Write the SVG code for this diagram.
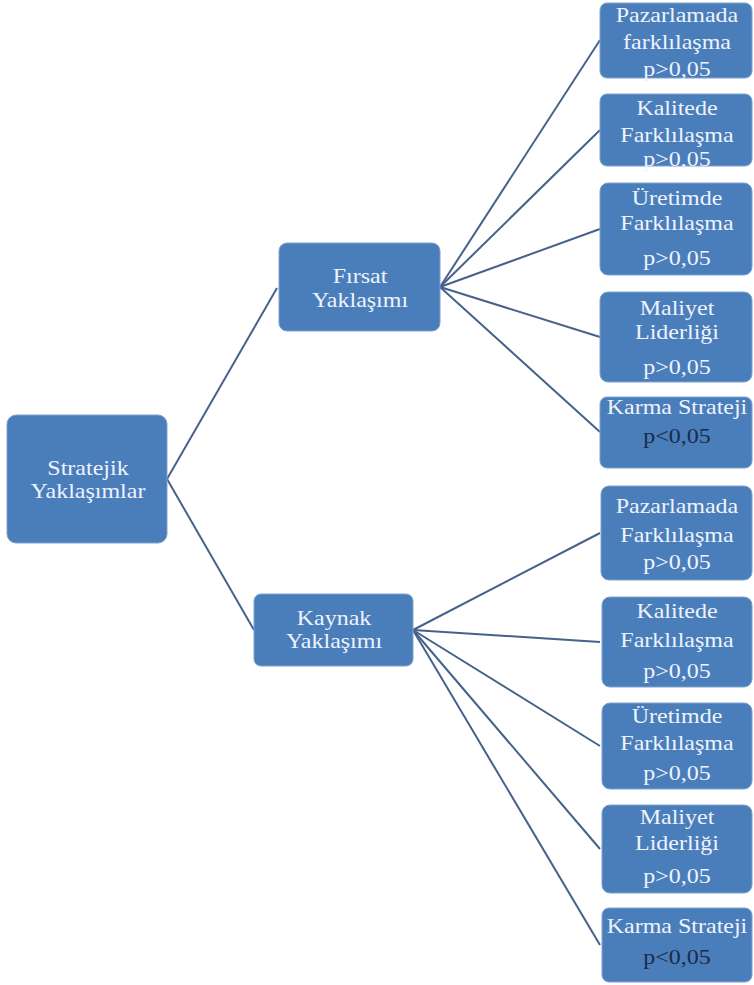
<svg xmlns="http://www.w3.org/2000/svg" width="754" height="985" viewBox="0 0 754 985">
  <style>
    .box { fill: #4a7ebb; stroke: #7da2cf; stroke-width: 1; }
    .lbl { font-family: "Liberation Serif", "Times New Roman", serif; font-size: 20px; fill: #eef3fb; text-anchor: middle; }
    .dark { fill: #1c2a4a; }
    .link { stroke: #46628a; stroke-width: 2; fill: none; }
  </style>
  <rect width="754" height="985" fill="#ffffff"/>

  <!-- connectors -->
  <g id="connectors" class="link">
    <line x1="167" y1="479" x2="277" y2="288"/>
    <line x1="167" y1="479" x2="254" y2="630"/>
    <line x1="440" y1="287" x2="600" y2="40"/>
    <line x1="440" y1="287" x2="600" y2="130"/>
    <line x1="440" y1="287" x2="600" y2="229"/>
    <line x1="440" y1="287" x2="600" y2="337"/>
    <line x1="440" y1="287" x2="600" y2="432"/>
    <line x1="413" y1="630" x2="600" y2="533"/>
    <line x1="413" y1="630" x2="600" y2="642"/>
    <line x1="413" y1="630" x2="600" y2="746"/>
    <line x1="413" y1="630" x2="600" y2="849"/>
    <line x1="413" y1="630" x2="600" y2="945"/>
  </g>

  <!-- root -->
  <g id="stratejik">
    <rect class="box" x="7" y="415" width="160" height="128" rx="9"/>
    <g transform="translate(88,0) scale(1.2,1)" class="lbl">
      <text y="475">Stratejik</text>
      <text y="498">Yaklaşımlar</text>
    </g>
  </g>

  <!-- second level -->
  <g id="firsat">
    <rect class="box" x="279" y="243" width="161" height="88" rx="8"/>
    <g transform="translate(360,0) scale(1.2,1)" class="lbl">
      <text y="283">Fırsat</text>
      <text y="307">Yaklaşımı</text>
    </g>
  </g>
  <g id="kaynak">
    <rect class="box" x="254" y="594" width="159" height="72" rx="7"/>
    <g transform="translate(334,0) scale(1.2,1)" class="lbl">
      <text y="625">Kaynak</text>
      <text y="648">Yaklaşımı</text>
    </g>
  </g>

  <!-- Fırsat branches -->
  <g id="f-pazarlama">
    <rect class="box" x="600" y="3" width="152" height="75" rx="7"/>
    <g transform="translate(677,0) scale(1.2,1)" class="lbl">
      <text y="22">Pazarlamada</text>
      <text y="49">farklılaşma</text>
      <text y="76">p&gt;0,05</text>
    </g>
  </g>
  <g id="f-kalite">
    <rect class="box" x="600" y="94" width="152" height="72" rx="7"/>
    <g transform="translate(677,0) scale(1.2,1)" class="lbl">
      <text y="115">Kalitede</text>
      <text y="142">Farklılaşma</text>
      <text y="166">p&gt;0,05</text>
    </g>
  </g>
  <g id="f-uretim">
    <rect class="box" x="600" y="183" width="152" height="92" rx="8"/>
    <g transform="translate(677,0) scale(1.2,1)" class="lbl">
      <text y="205">Üretimde</text>
      <text y="230">Farklılaşma</text>
      <text y="265">p&gt;0,05</text>
    </g>
  </g>
  <g id="f-maliyet">
    <rect class="box" x="600" y="292" width="152" height="90" rx="8"/>
    <g transform="translate(677,0) scale(1.2,1)" class="lbl">
      <text y="315">Maliyet</text>
      <text y="339">Liderliği</text>
      <text y="374">p&gt;0,05</text>
    </g>
  </g>
  <g id="f-karma">
    <rect class="box" x="600" y="397" width="152" height="71" rx="7"/>
    <g transform="translate(677,0) scale(1.2,1)" class="lbl">
      <text y="414">Karma Strateji</text>
      <text y="443" class="dark">p&lt;0,05</text>
    </g>
  </g>

  <!-- Kaynak branches -->
  <g id="k-pazarlama">
    <rect class="box" x="601" y="486" width="151" height="94" rx="8"/>
    <g transform="translate(677,0) scale(1.2,1)" class="lbl">
      <text y="513">Pazarlamada</text>
      <text y="542">Farklılaşma</text>
      <text y="569">p&gt;0,05</text>
    </g>
  </g>
  <g id="k-kalite">
    <rect class="box" x="602" y="597" width="150" height="90" rx="8"/>
    <g transform="translate(677,0) scale(1.2,1)" class="lbl">
      <text y="618">Kalitede</text>
      <text y="647">Farklılaşma</text>
      <text y="678">p&gt;0,05</text>
    </g>
  </g>
  <g id="k-uretim">
    <rect class="box" x="602" y="703" width="150" height="86" rx="8"/>
    <g transform="translate(677,0) scale(1.2,1)" class="lbl">
      <text y="723">Üretimde</text>
      <text y="750">Farklılaşma</text>
      <text y="780">p&gt;0,05</text>
    </g>
  </g>
  <g id="k-maliyet">
    <rect class="box" x="602" y="805" width="150" height="88" rx="8"/>
    <g transform="translate(677,0) scale(1.2,1)" class="lbl">
      <text y="824">Maliyet</text>
      <text y="850">Liderliği</text>
      <text y="883">p&gt;0,05</text>
    </g>
  </g>
  <g id="k-karma">
    <rect class="box" x="602" y="908" width="150" height="74" rx="7"/>
    <g transform="translate(677,0) scale(1.2,1)" class="lbl">
      <text y="933">Karma Strateji</text>
      <text y="964" class="dark">p&lt;0,05</text>
    </g>
  </g>
</svg>
